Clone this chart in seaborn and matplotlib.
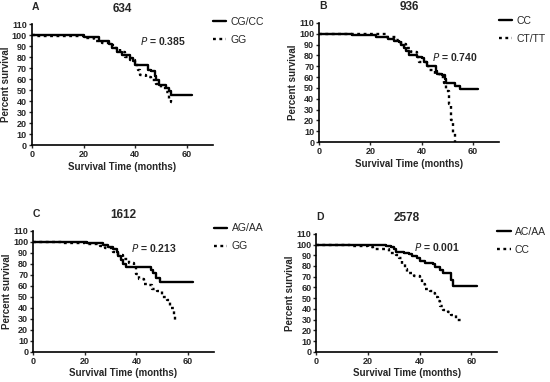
import numpy as np
import pandas as pd
import matplotlib
matplotlib.use("Agg")
import matplotlib.pyplot as plt
import seaborn as sns

# panel A - 634
a_t1 = [0, 20, 26, 28, 30, 31, 33, 35, 36, 38, 39, 40, 41, 45, 46, 47.5, 48, 49, 50, 52, 53, 54, 55, 62]
a_s1 = [100, 98, 95, 95, 92, 88, 85, 82, 82, 79, 76, 73, 73, 68, 67, 63, 59, 55, 55, 52, 49, 46, 46, 46]
a_t2 = [0, 2, 20, 21, 24, 27, 30, 32, 34, 36, 38, 40, 41, 42, 44, 46, 48, 50, 52, 53, 54, 55]
a_s2 = [100, 99, 99, 97, 95, 93, 91, 88, 85, 80, 77, 73, 68, 64, 62, 59, 56, 52, 48, 42, 39, 38]

# panel B - 936
b_t1 = [0, 13, 22, 27, 29, 31, 32, 33, 34, 35, 38, 40, 41, 42, 45, 45.5, 46, 48, 49, 49.5, 52.5, 53, 55, 62]
b_s1 = [100, 99, 97, 95, 93, 92, 90, 87, 84, 80, 79, 78, 74, 70, 70, 66, 63, 62, 58, 55, 55, 52, 49, 49]
b_t2 = [0, 14, 24, 26, 30, 32, 34, 36, 38, 39, 42, 43, 45, 47, 48.6, 49.5, 50.5, 51.5, 52.2, 52.8]
b_s2 = [100, 100, 100, 97, 94, 91, 87, 83, 79, 74, 70, 67, 63, 60, 55, 47, 35, 20, 8, 0]

# panel C - 1612
c_t1 = [0, 21, 26, 27, 29, 31, 32.5, 33, 34, 35, 36, 45, 45.5, 46.5, 47.5, 49, 62]
c_s1 = [100, 99, 99, 97, 95, 93, 91, 87, 83, 80, 77, 77, 74, 72, 67, 63, 63]
c_t2 = [0, 11, 20, 26, 28, 31, 33, 35, 37, 39, 40, 41, 43, 45, 46, 48, 50, 52, 53, 54.5, 55]
c_s2 = [100, 99, 98, 96, 94, 91, 88, 84, 81, 79, 71, 66, 62, 61, 57, 55, 50, 47, 40, 33, 28]

# panel D - 2578
d_t1 = [0, 26, 27, 29, 30, 31, 34, 36, 37, 39, 40, 42, 45, 46, 48, 49, 51.5, 52, 53, 62]
d_s1 = [100, 100, 99, 98, 96, 93, 92, 91, 89, 87, 85, 83, 82, 79, 76, 73, 73, 67, 61, 61]
d_t2 = [0, 13, 20, 22, 26, 28, 31, 32, 33, 34.5, 35, 38, 40, 41, 42, 44, 45, 46, 47, 48, 49, 51, 52, 54, 56]
d_s2 = [100, 99, 98, 96, 96, 92, 90, 87, 82, 77, 73, 71, 68, 63, 59, 57, 55, 51, 47, 43, 39, 37, 34, 30, 28]

panels = [
    ("A", "634", ["CG/CC", "GG"], (a_t1, a_s1), (a_t2, a_s2), "0.385", (42, 95)),
    ("B", "936", ["CC", "CT/TT"], (b_t1, b_s1), (b_t2, b_s2), "0.740", (44, 79)),
    ("C", "1612", ["AG/AA", "GG"], (c_t1, c_s1), (c_t2, c_s2), "0.213", (38, 94)),
    ("D", "2578", ["AC/AA", "CC"], (d_t1, d_s1), (d_t2, d_s2), "0.001", (38, 98)),
]
boxes = [
    [0.058, 0.620, 0.329, 0.317],
    [0.580, 0.628, 0.327, 0.312],
    [0.060, 0.079, 0.329, 0.317],
    [0.575, 0.079, 0.329, 0.309],
]

sns.set_style("ticks")
plt.rcParams["font.family"] = ["Liberation Sans", "DejaVu Sans"]

fig = plt.figure(figsize=(5.5, 3.82), dpi=100)

for (letter, title, labels, g1, g2, pval, ppos), box in zip(panels, boxes):
    ax = fig.add_axes(box)
    df1 = pd.DataFrame({"t": g1[0], "s": g1[1]})
    df2 = pd.DataFrame({"t": g2[0], "s": g2[1]})
    sns.lineplot(data=df1, x="t", y="s", ax=ax, color="black", lw=1.7,
                 drawstyle="steps-post", label=labels[0], estimator=None, sort=False)
    sns.lineplot(data=df2, x="t", y="s", ax=ax, color="black", lw=1.7,
                 linestyle=(0, (1.2, 1.5)), drawstyle="steps-post",
                 label=labels[1], estimator=None, sort=False)
    ax.set_xlim(0, 70)
    ax.set_ylim(0, 110)
    ax.set_xticks([0, 20, 40, 60])
    ax.set_yticks(np.arange(0, 111, 10))
    ax.tick_params(labelsize=6.5, length=2.5, width=1, pad=1)
    for lab in ax.get_xticklabels() + ax.get_yticklabels():
        lab.set_fontweight("bold")
    for sp in ["left", "bottom"]:
        ax.spines[sp].set_linewidth(1.2)
        ax.spines[sp].set_color("black")
    sns.despine(ax=ax)
    ax.set_xlabel("Survival Time (months)", fontsize=7, fontweight="bold", labelpad=2)
    ax.set_ylabel("Percent survival", fontsize=7, fontweight="bold", labelpad=1)
    ax.set_title(title, fontsize=8.5, fontweight="bold", pad=9)
    ax.text(0, 1.14, letter, transform=ax.transAxes, fontsize=7.5, fontweight="bold",
            ha="left", va="center")
    ax.text(ppos[0], ppos[1], r"$\bf{\it{P}}$ = " + pval, fontsize=7.5,
            fontweight="bold", ha="left", va="center")
    ax.legend(loc="upper left", bbox_to_anchor=(1.0, 1.06), frameon=False,
              borderaxespad=0, borderpad=0,
              fontsize=7.5, handlelength=1.3, handletextpad=0.4, labelspacing=0.75)

fig.savefig("out.png", dpi=100)
